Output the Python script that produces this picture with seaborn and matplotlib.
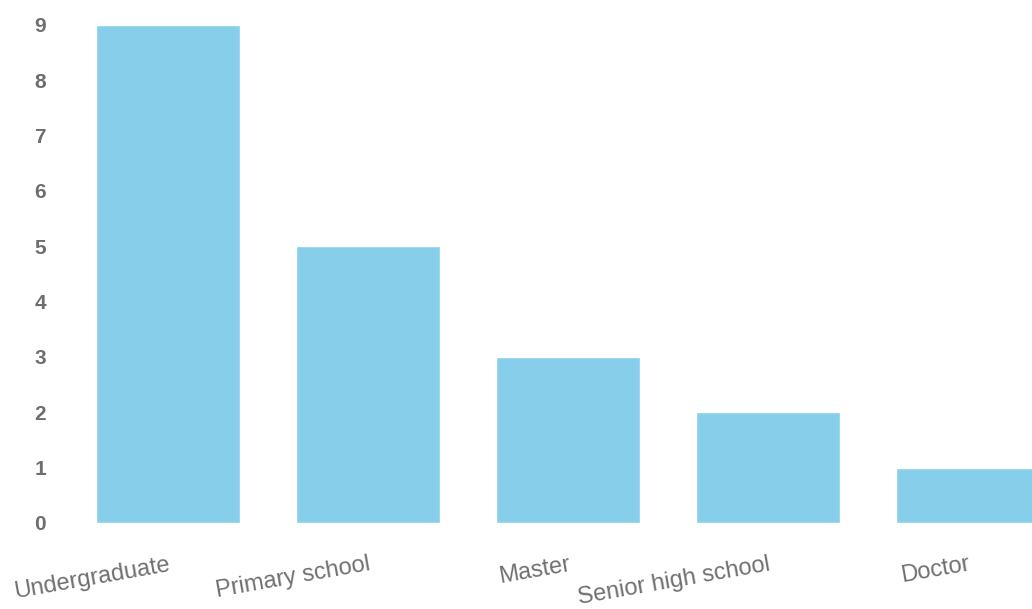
import matplotlib
matplotlib.use("Agg")
import matplotlib.pyplot as plt
import seaborn as sns
import pandas as pd

categories = ["Undergraduate", "Primary school", "Master", "Senior high school", "Doctor"]
values = [9, 5, 3, 2, 1]
y_ticks = [0, 1, 2, 3, 4, 5, 6, 7, 8, 9]

sns.set_theme(style="white")
plt.rcParams['font.family'] = ['Liberation Sans', 'DejaVu Sans']

df = pd.DataFrame({"category": categories, "value": values})

fig = plt.figure(figsize=(10.32, 6.09), dpi=100)
ax = fig.add_axes([60/1032, 86/609, 972/1032, (523-20)/609])
sns.barplot(data=df, x="category", y="value", color="#87CEEB", saturation=1,
            width=0.72, ax=ax)

ax.set_xlim(-0.54, 4.32)
ax.set_ylim(0, 9.09)
ax.set_yticks(y_ticks)
ax.set_xlabel("")
ax.set_ylabel("")
for s in ax.spines.values():
    s.set_visible(False)
ax.tick_params(axis="y", length=0, pad=10, labelsize=15, labelcolor="#6e6e6e")
ax.tick_params(axis="x", length=0, pad=22, labelsize=17, labelcolor="#707070")
for lab in ax.get_yticklabels():
    lab.set_fontweight("bold")
for lab in ax.get_xticklabels():
    lab.set_rotation(10)
    lab.set_ha("right")
    lab.set_va("top")
    lab.set_rotation_mode("anchor")
    lab.set_fontsize(17)

fig.savefig("out.png", dpi=100)
